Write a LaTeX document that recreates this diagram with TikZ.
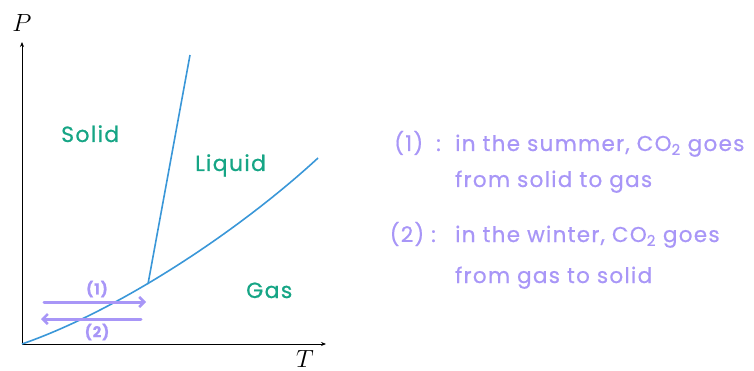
\documentclass[tikz,border=0pt]{standalone}
\usepackage{fontspec}
\newfontfamily\hand[LetterSpace=6,FakeBold=0.6]{Poppins}
\usetikzlibrary{arrows.meta}
\definecolor{curveblue}{HTML}{3A97D8}
\definecolor{phasegreen}{HTML}{16A585}
\definecolor{notepurple}{HTML}{A896F7}
\tikzset{
  axis/.style={line width=0.8pt, -{Stealth[length=5pt,width=4pt]}},
  phaseline/.style={curveblue, line width=1.6pt},
  phase/.style={phasegreen, font=\hand\fontsize{22}{22}\selectfont, inner sep=0pt},
  note/.style={notepurple, font=\hand\fontsize{21.5}{21.5}\selectfont, inner sep=0pt},
  small/.style={notepurple, font=\hand\bfseries\fontsize{15}{15}\selectfont, inner sep=0pt},
  season/.style={notepurple, line width=3pt, line cap=round, -{Straight Barb[length=5pt,width=10pt,line width=2.5pt]}},
}
\begin{document}
\begin{tikzpicture}[x=1pt,y=-1pt]
\useasboundingbox (0,0) rectangle (754,371);
\coordinate (O) at (22,344);
\coordinate (Ptop) at (22,42);
\coordinate (Tend) at (326,344);
\coordinate (TP) at (148,284);
\coordinate (Vend) at (318,158);
\coordinate (Mtop) at (190,55);
\draw[axis] (O) -- (Ptop);
\draw[axis] (O) -- (Tend);
\node[font=\fontsize{24}{24}\selectfont] (Plab) at (22,23) {$P$};
\node[font=\fontsize{24}{24}\selectfont] (Tlab) at (305,359) {$T$};
\draw[phaseline] (O) .. controls (120,310) and (240,230) .. (Vend);
\draw[phaseline] (TP) -- (Mtop);
\node[phase, anchor=base west] (solid) at (61,142) {Solid};
\node[phase, anchor=base west] (liquid) at (195,171) {Liquid};
\node[phase, anchor=base west] (gas) at (246,298) {Gas};
\coordinate (a1s) at (44,302);
\coordinate (a1e) at (146,302);
\coordinate (a2s) at (141,319);
\coordinate (a2e) at (41,319);
\draw[season] (a1s) -- (a1e);
\draw[season] (a2s) -- (a2e);
\node[small] (l1) at (97,289) {(1)};
\node[small] (l2) at (97,332) {(2)};
\node[note, anchor=base east] (n1) at (441,151) {(1)\hspace{13pt}:};
\node[note, anchor=base east] (n2) at (436,242) {(2)\hspace{7pt}:};
\node[note, anchor=base west] (t1a) at (455,151) {in the summer, CO\textsubscript{2} goes};
\node[note, anchor=base west] (t1b) at (455,187) {from solid to gas};
\node[note, anchor=base west] (t2a) at (455,242) {in the winter, CO\textsubscript{2} goes};
\node[note, anchor=base west] (t2b) at (455,283) {from gas to solid};
\end{tikzpicture}
\end{document}
